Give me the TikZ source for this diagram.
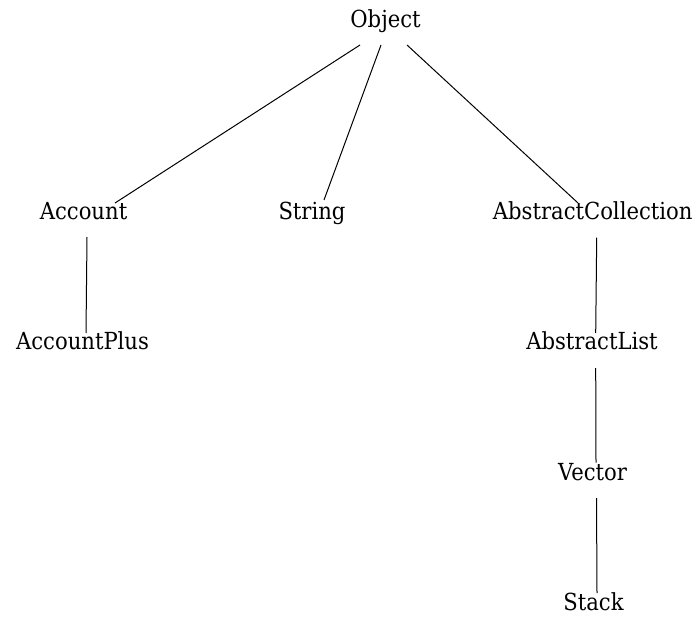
\documentclass[tikz,border=0pt]{standalone}
\usepackage{fontspec}
\newfontfamily\clsfont{DejaVu Serif Condensed}
\usetikzlibrary{calc}
\tikzset{
  cls/.style={anchor=base, inner sep=0pt, font=\clsfont\fontsize{23.5}{27}\selectfont},
  edge/.style={line width=1pt, black}
}
\begin{document}
\begin{tikzpicture}[x=1pt,y=-1pt]
\useasboundingbox (0,0) rectangle (698,617);
\node[cls] (Object) at (385.5,28) {Object};
\node[cls] (Account) at (83.5,220) {Account};
\node[cls] (String) at (312,220) {String};
\node[cls] (AC) at (592.7,220) {AbstractCollection};
\node[cls] (AccountPlus) at (82.5,349) {AccountPlus};
\node[cls] (AL) at (592,349) {AbstractList};
\node[cls] (Vector) at (592.5,480.5) {Vector};
\node[cls] (Stack) at (593.5,610) {Stack};
\draw[edge] ($(Object.base)+(-25.5,17)$) -- ($(Account.base)+(31.5,-17)$);
\draw[edge] ($(Object.base)+(-4.5,17)$) -- ($(String.base)+(12,-20)$);
\draw[edge] ($(Object.base)+(21.5,17)$) -- ($(AC.base)+(-14.7,-17)$);
\draw[edge] ($(Account.base)+(3.5,17)$) -- ($(AccountPlus.base)+(3.5,-16)$);
\draw[edge] ($(AC.base)+(4,17.7)$) -- ($(AL.base)+(3.7,-16)$);
\draw[edge] ($(AL.base)+(3.7,19)$) -- ($(Vector.base)+(3.5,-18)$);
\draw[edge] ($(Vector.base)+(4,17.5)$) -- ($(Stack.base)+(3.5,-17)$);
\end{tikzpicture}
\end{document}
